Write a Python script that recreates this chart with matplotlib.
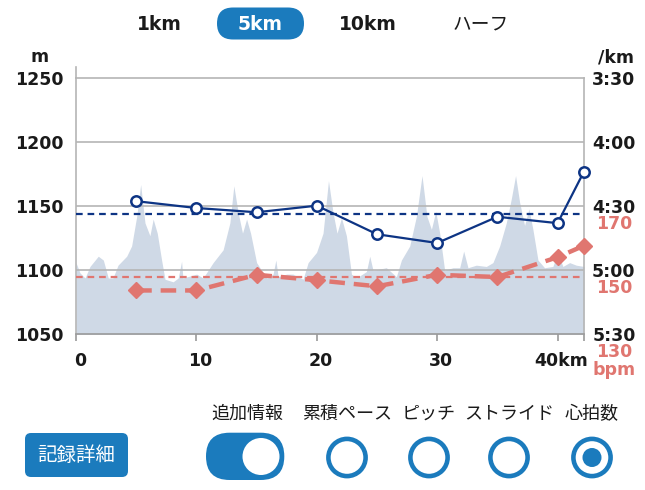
import matplotlib
matplotlib.use("Agg")
import matplotlib.pyplot as plt
from matplotlib.patches import FancyBboxPatch, Circle
from matplotlib.transforms import ScaledTranslation, blended_transform_factory
from matplotlib.lines import Line2D

plt.rcParams['font.family'] = ['DejaVu Sans', 'Noto Sans CJK JP']

# ---------------- data ----------------
elev_km = [0.0, 0.33, 0.75, 1.16, 1.85, 2.27, 2.68, 3.07, 3.49, 4.21, 4.62, 5.04, 5.37,
           5.73, 6.14, 6.41, 6.75, 7.11, 7.39, 8.07, 8.49, 8.77, 8.88, 10.02, 10.56,
           11.39, 12.22, 12.78, 13.11, 13.47, 13.83, 14.17, 14.5, 15.0, 15.83, 16.37,
           16.6, 16.79, 17.49, 18.03, 18.86, 19.28, 19.98, 20.52, 20.97, 21.35, 21.68,
           22.05, 22.46, 22.88, 23.3, 24.12, 24.4, 24.67, 25.78, 26.61, 27.03, 27.72,
           28.27, 28.74, 29.15, 29.52, 29.88, 30.21, 30.62, 31.31, 31.87, 32.2, 32.56,
           33.25, 34.08, 34.63, 35.19, 35.74, 36.16, 36.51, 36.85, 37.26, 37.62, 37.95,
           38.37, 38.92, 39.61, 40.02, 40.44, 41.0, 41.55, 42.195]
elev_m = [1106, 1098, 1094, 1103, 1111, 1108, 1094, 1094, 1104, 1111, 1119, 1142, 1167,
          1137, 1127, 1140, 1129, 1108, 1093, 1091, 1094, 1107, 1094, 1097, 1094,
          1106, 1116, 1137, 1166, 1145, 1129, 1140, 1129, 1106, 1094, 1097,
          1108, 1095, 1097, 1097, 1093, 1106, 1114, 1129, 1170, 1145, 1129,
          1141, 1127, 1097, 1094, 1099, 1111, 1100, 1102, 1095, 1108, 1119,
          1142, 1174, 1142, 1132, 1146, 1129, 1100, 1102, 1102, 1115, 1102,
          1104, 1103, 1106, 1119, 1137, 1156, 1174, 1153, 1135, 1148, 1132,
          1108, 1102, 1103, 1114, 1103, 1106, 1104, 1103]

split_km = [5, 10, 15, 20, 25, 30, 35, 40, 42.195]
pace_sec = [267.6, 270.8, 272.8, 269.7, 283.1, 287.2, 274.9, 277.9, 253.7]
hr_bpm = [143.7, 143.7, 148.6, 146.9, 145.0, 148.6, 147.9, 154.1, 157.7]
pace_avg = 273.8
hr_avg = 147.8

elev_ticks = [1050, 1100, 1150, 1200, 1250]
pace_ticks = [210, 240, 270, 300, 330]
pace_labels = ['3:30', '4:00', '4:30', '5:00', '5:30']
hr_ticks = [170, 150, 130]
x_ticks = [0, 10, 20, 30, 40, 42.195]
x_labels = ['0', '10', '20', '30', '40km', '']
tabs = ['1km', '5km', '10km', 'ハーフ']
options = ['追加情報', '累積ペース', 'ピッチ', 'ストライド', '心拍数']

# ---------------- style ----------------
NAVY = '#0d3484'
RED = '#e07670'
AREA = '#cfd9e6'
GRID = '#b5b5b5'
BLUE = '#1b7bbd'
W, H = 645, 490

fig = plt.figure(figsize=(W / 100, H / 100), dpi=100)
fig.patch.set_facecolor('white')

L, R, T, B = 76, 584, 78.3, 334.3
ax = fig.add_axes([L / W, 1 - B / H, (R - L) / W, (B - T) / H])
ax.set_xlim(0, 42.195)
ax.set_ylim(1050, 1250)
ax.fill_between(elev_km, elev_m, 1050, color=AREA, lw=0, zorder=1)
for v in elev_ticks[1:-1]:
    ax.axhline(v, color=GRID, lw=1.2, zorder=2)
for s in ['top', 'left', 'right']:
    ax.spines[s].set_color(GRID)
    ax.spines[s].set_linewidth(1.2)
ax.spines['bottom'].set_color('#9a9a9a')
ax.spines['bottom'].set_linewidth(1.2)
ax.add_line(Line2D([0, 0], [1, 1 + 11 / (B - T)], transform=ax.transAxes,
                   color=GRID, lw=1.2, clip_on=False))

ax.set_yticks(elev_ticks)
ax.set_yticklabels([str(v) for v in elev_ticks])
ax.tick_params(axis='y', length=0, pad=26.5, labelsize=12.5)
for lab in ax.get_yticklabels():
    lab.set_ha('center')
    lab.set_fontweight('bold')
    lab.set_color('#1a1a1a')

ax.set_xticks(x_ticks)
ax.set_xticklabels(x_labels)
ax.tick_params(axis='x', length=5, width=1.2, color='#9a9a9a', pad=7.5, labelsize=12.5)
for lab in ax.get_xticklabels():
    lab.set_fontweight('bold')
    lab.set_color('#1a1a1a')
    lab.set_transform(lab.get_transform() + ScaledTranslation(4 / 100, 0, fig.dpi_scale_trans))

# pace axis
axp = ax.twinx()
axp.set_ylim(330, 210)
axp.set_yticks(pace_ticks)
axp.set_yticklabels(pace_labels)
axp.tick_params(axis='y', length=0, pad=21.5, labelsize=12.5)
for lab in axp.get_yticklabels():
    lab.set_ha('center')
    lab.set_fontweight('bold')
    lab.set_color('#1a1a1a')
for s in axp.spines.values():
    s.set_visible(False)
axp.axhline(pace_avg, color=NAVY, lw=1.6, ls=(0, (3, 2.2)), zorder=3)
axp.plot(split_km, pace_sec, color=NAVY, lw=1.6, marker='o', ms=7.5,
         mfc='white', mec=NAVY, mew=1.8, zorder=5, clip_on=False)

# heart rate axis
axh = ax.twinx()
axh.set_ylim(130, 210)
axh.set_yticks([])
for s in axh.spines.values():
    s.set_visible(False)
axh.axhline(hr_avg, color=RED, lw=1.6, ls=(0, (3, 2.2)), zorder=3)
axh.plot(split_km, hr_bpm, color=RED, lw=3.2, ls=(0, (3.5, 2)), marker='D', ms=8.5,
         mfc=RED, mec=RED, zorder=4, clip_on=False)
bt = blended_transform_factory(fig.transFigure, axh.transData)
off = ScaledTranslation(0, -17.5 / 100, fig.dpi_scale_trans)
for v in hr_ticks:
    axh.text(614 / W, v, str(v), transform=bt + off, ha='center', va='center',
             fontsize=12.5, fontweight='bold', color=RED, clip_on=False)
axh.text(614 / W, 130, 'bpm', transform=bt + ScaledTranslation(0, -35.5 / 100, fig.dpi_scale_trans),
         ha='center', va='center', fontsize=12.5, fontweight='bold', color=RED, clip_on=False)

ax.set_zorder(1)
axp.set_zorder(3)
axh.set_zorder(2)
ax.patch.set_visible(False)
axh.patch.set_visible(False)
axp.patch.set_visible(False)

# ---------------- overlay (UI) ----------------
ov = fig.add_axes([0, 0, 1, 1], zorder=5)
ov.set_xlim(0, W)
ov.set_ylim(H, 0)
ov.axis('off')
ov.patch.set_visible(False)

ov.text(40, 57, 'm', ha='center', va='center', fontsize=12.5, fontweight='bold', color='#1a1a1a')
ov.text(616, 57, '/km', ha='center', va='center', fontsize=12.5, fontweight='bold', color='#1a1a1a')

tab_x = [159, 260, 368, 481]
ov.add_patch(FancyBboxPatch((217, 7.5), 87, 32, boxstyle='round,pad=0,rounding_size=16',
                            fc=BLUE, ec='none'))
for t, x in zip(tabs, tab_x):
    if t == '5km':
        ov.text(x, 24, t, ha='center', va='center', fontsize=13.5, fontweight='bold', color='white')
    elif t == 'ハーフ':
        ov.text(x, 24, t, ha='center', va='center', fontsize=13.5, color='#1a1a1a',
                family=['Noto Sans CJK JP', 'DejaVu Sans'])
    else:
        ov.text(x, 24, t, ha='center', va='center', fontsize=13.5, fontweight='bold', color='#1a1a1a')

# record detail button
ov.add_patch(FancyBboxPatch((25, 433), 103, 44, boxstyle='round,pad=0,rounding_size=6',
                            fc=BLUE, ec='none'))
ov.text(76.5, 455, '記録詳細', ha='center', va='center', fontsize=14, color='white',
        family=['Noto Sans CJK JP', 'DejaVu Sans'])

opt_x = [247.5, 347, 429, 509, 592]
for t, x in zip(options, opt_x):
    ov.text(x, 414, t, ha='center', va='center', fontsize=13, color='#1a1a1a',
            family=['Noto Sans CJK JP', 'DejaVu Sans'])

# toggle
ov.add_patch(FancyBboxPatch((206, 432.7), 78.3, 47.3, boxstyle='round,pad=0,rounding_size=23.6',
                            fc=BLUE, ec='none'))
ov.add_patch(Circle((261, 456.5), 18.5, fc='white', ec='none'))
# radio buttons
for i, x in enumerate(opt_x[1:]):
    ov.add_patch(Circle((x, 457.5), 18.6, fc='none', ec=BLUE, lw=3.3))
    if i == 3:
        ov.add_patch(Circle((x, 457.5), 9.5, fc=BLUE, ec='none'))

fig.savefig('out.png', dpi=100, facecolor='white')
